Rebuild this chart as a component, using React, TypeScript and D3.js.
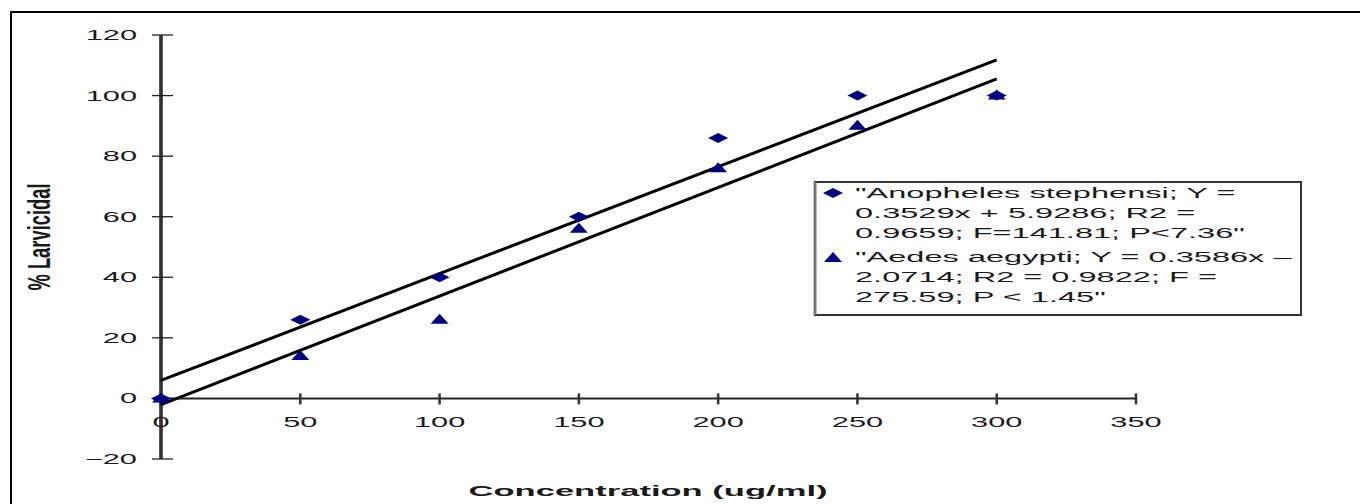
import React from "react";
import * as d3 from "d3";

// concentrations (ug/ml)
const conc = [0, 50, 100, 150, 200, 250, 300];
// % larvicidal
const anopheles = [0, 26, 40, 60, 86, 100, 100];
const aedes = [0, 14, 26, 56, 76, 90, 100];

// fitted lines from the legend: [slope, intercept]
const anophelesFit = [0.3529, 5.9286];
const aedesFit = [0.3586, -2.0714];
const fitRange = [0, 300];

const xTicks = [0, 50, 100, 150, 200, 250, 300, 350];
const yTicks = [-20, 0, 20, 40, 60, 80, 100, 120];

const legendLines = [
  '"Anopheles stephensi; Y =',
  "0.3529x + 5.9286; R2 =",
  '0.9659; F=141.81; P<7.36"',
  '"Aedes aegypti; Y = 0.3586x \u2013',
  "2.0714; R2 = 0.9822; F =",
  '275.59; P < 1.45"',
];

const W = 1360;
const H = 504;
const SX = 2.2; // the picture is stretched sideways
const FONT = "'Liberation Sans', Arial, sans-serif";
const MARK = "#000080";

const x = d3.scaleLinear().domain([0, 350]).range([161, 1136]);
const y = d3.scaleLinear().domain([-20, 120]).range([459, 35]);

function Txt(props: any) {
  const { x0, y0, size, bold, anchor, children, len } = props;
  return (
    <text
      transform={`translate(${x0},${y0}) scale(${SX},1)`}
      fontFamily={FONT}
      fontSize={size}
      fontWeight={bold ? "bold" : "normal"}
      textAnchor={anchor || "start"}
      textLength={len}
      lengthAdjust={len ? "spacingAndGlyphs" : undefined}
      fill="#1a1a1a"
    >
      {children}
    </text>
  );
}

const diamond = (cx: number, cy: number) =>
  `${cx - 10},${cy} ${cx},${cy - 5} ${cx + 10},${cy} ${cx},${cy + 5}`;
const triangle = (cx: number, cy: number) =>
  `${cx - 9},${cy + 4} ${cx},${cy - 6} ${cx + 9},${cy + 4}`;

const lineFor = (fit: number[]) => {
  const pts: [number, number][] = fitRange.map((c) => [x(c), y(fit[0] * c + fit[1])]);
  return d3.line()(pts) || "";
};

export default function App() {
  const legX = 815;
  const legY = 182;
  const legW = 486;
  const legH = 133;

  return (
    <svg
      width={W}
      height={H}
      style={{ position: "absolute", left: 0, top: 0, display: "block", background: "#fff" }}
    >
      {/* outer frame */}
      <rect x={11} y={12} width={1400} height={600} fill="none" stroke="#000" strokeWidth={2} />

      {/* y axis */}
      <line x1={x(0)} x2={x(0)} y1={y(120)} y2={y(-20)} stroke="#555" strokeWidth={4} />
      <line x1={x(0)} x2={x(0)} y1={y(120)} y2={y(-20)} stroke="#333" strokeWidth={2} />
      {yTicks.map((t) => (
        <g key={"yt" + t}>
          <line x1={152} x2={173} y1={y(t)} y2={y(t)} stroke="#222" strokeWidth={1.3} />
          <Txt x0={137} y0={y(t) + 5} size={14} anchor="end">
            {t < 0 ? "\u2212" + Math.abs(t) : t}
          </Txt>
        </g>
      ))}

      {/* x axis */}
      <line x1={x(0)} x2={x(350)} y1={y(0)} y2={y(0)} stroke="#222" strokeWidth={2} />
      {xTicks.map((t) => (
        <g key={"xt" + t}>
          <line x1={x(t)} x2={x(t)} y1={y(0) - 5} y2={y(0) + 6} stroke="#333" strokeWidth={2.5} />
          <Txt x0={x(t)} y0={y(0) + 29} size={14} anchor="middle">
            {t}
          </Txt>
        </g>
      ))}

      {/* axis titles */}
      <Txt x0={648} y0={496} size={15} bold anchor="middle" len={359 / SX}>
        Concentration (ug/ml)
      </Txt>
      <text
        transform={`translate(50,237) scale(${SX},1) rotate(-90)`}
        fontFamily={FONT}
        fontSize={14}
        fontWeight="bold"
        textAnchor="middle"
        textLength={107}
        lengthAdjust="spacingAndGlyphs"
        fill="#1a1a1a"
      >
        % Larvicidal
      </text>

      {/* regression lines */}
      <path d={lineFor(anophelesFit)} stroke="#000" strokeWidth={3} fill="none" />
      <path d={lineFor(aedesFit)} stroke="#000" strokeWidth={3} fill="none" />

      {/* points */}
      {conc.map((c, i) => (
        <polygon key={"a" + i} points={diamond(x(c), y(anopheles[i]))} fill={MARK} />
      ))}
      {conc.map((c, i) => (
        <polygon key={"b" + i} points={triangle(x(c), y(aedes[i]))} fill={MARK} />
      ))}

      {/* legend */}
      <rect x={legX} y={legY} width={legW} height={legH} fill="#fff" stroke="#333" strokeWidth={2} />
      <line x1={legX} x2={legX} y1={legY} y2={legY + legH} stroke="#777" strokeWidth={3} />
      <polygon points={diamond(833, 193)} fill={MARK} />
      <polygon points={triangle(833, 258)} fill={MARK} />
      {legendLines.map((s, i) => (
        <Txt key={"l" + i} x0={855} y0={198 + i * 20 + (i >= 3 ? 4 : 0)} size={14.8}>
          {s}
        </Txt>
      ))}
    </svg>
  );
}
